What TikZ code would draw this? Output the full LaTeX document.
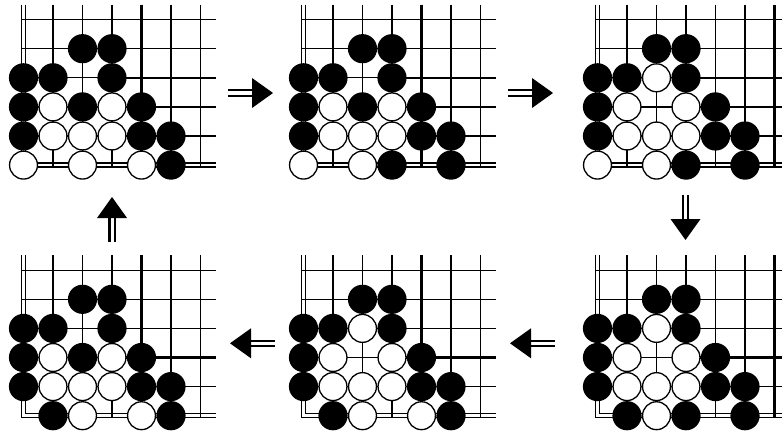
\documentclass[tikz,border=0pt]{standalone}
\tikzset{
  gridline/.style={line width=1.35pt, black},
  thickline/.style={line width=2.1pt, black},
  bstone/.style={fill=black},
  wstone/.style={fill=white, draw=black, line width=1.3pt},
  shaftline/.style={line width=2.2pt, black},
  headfill/.style={fill=black}
}
\newcommand\goboard[6]{%
  \begin{scope}[shift={(#1,#2)},x=29.5pt,y=-29.1pt]
    \foreach \c in {1,...,6} \draw[gridline] (\c,-0.515) -- (\c,5.069);
    \foreach \r in {0,...,4} \draw[gridline] (-0.075,\r) -- (6.54,\r);
    \foreach \c in {#5} \draw[thickline] (\c,-0.515) -- (\c,5.069);
    \foreach \r in {#6} \draw[thickline] (3,\r) -- (6.54,\r);
    \draw[gridline] (-0.075,-0.515) -- (-0.075,5.069) -- (6.54,5.069);
    \draw[gridline] (0.075,-0.515) -- (0.075,4.931) -- (6.54,4.931);
    \foreach \c/\r in {#3} \fill[bstone] (\c,\r) circle[radius=14.6pt];
    \foreach \c/\r in {#4} \filldraw[wstone] (\c,\r) circle[radius=13.95pt];
  \end{scope}}
\newcommand\dblarrow[3]{%
  \begin{scope}[shift={(#1,#2)},rotate=#3]
    \draw[shaftline] (-45pt,2.6pt) -- (-19pt,2.6pt);
    \draw[shaftline] (-45pt,-2.6pt) -- (-19pt,-2.6pt);
    \fill[headfill] (-21pt,15pt) -- (0pt,0pt) -- (-21pt,-15pt) -- cycle;
  \end{scope}}
\begin{document}
\begin{tikzpicture}[x=1pt,y=-1pt]
  \useasboundingbox (0,0) rectangle (782,436);
  \clip (0,0) rectangle (782,436);
  % board 1
  \goboard{23.5}{19.6}{2/1,3/1,0/2,1/2,3/2,0/3,2/3,4/3,0/4,4/4,5/4,5/5}{1/3,3/3,1/4,2/4,3/4,0/5,2/5,4/5}{4}{2,4}
  % board 2
  \goboard{303.5}{19.6}{2/1,3/1,0/2,1/2,3/2,0/3,2/3,4/3,0/4,4/4,5/4,3/5,5/5}{1/3,3/3,1/4,2/4,3/4,0/5,2/5}{4}{2,4}
  % board 3
  \goboard{597.5}{19.6}{2/1,3/1,0/2,1/2,3/2,0/3,4/3,0/4,4/4,5/4,3/5,5/5}{2/2,1/3,3/3,1/4,2/4,3/4,0/5,2/5}{6}{2,4}
  % board 4
  \goboard{23.5}{270.2}{2/1,3/1,0/2,1/2,3/2,0/3,2/3,4/3,0/4,4/4,5/4,1/5,5/5}{1/3,3/3,1/4,2/4,3/4,2/5,4/5}{4}{3}
  % board 5
  \goboard{303.5}{270.2}{2/1,3/1,0/2,1/2,3/2,0/3,4/3,0/4,4/4,5/4,1/5,5/5}{2/2,1/3,3/3,1/4,2/4,3/4,2/5,4/5}{4}{3}
  % board 6
  \goboard{597.5}{270.2}{2/1,3/1,0/2,1/2,3/2,0/3,4/3,0/4,4/4,5/4,1/5,3/5,5/5}{2/2,1/3,3/3,1/4,2/4,3/4,2/5}{6}{3}
  % arrows
  \dblarrow{273}{93}{0}
  \dblarrow{553}{93}{0}
  \dblarrow{685.5}{240}{-90}
  \dblarrow{230}{343.3}{180}
  \dblarrow{510}{343.3}{180}
  \dblarrow{112}{197}{90}
\end{tikzpicture}
\end{document}
